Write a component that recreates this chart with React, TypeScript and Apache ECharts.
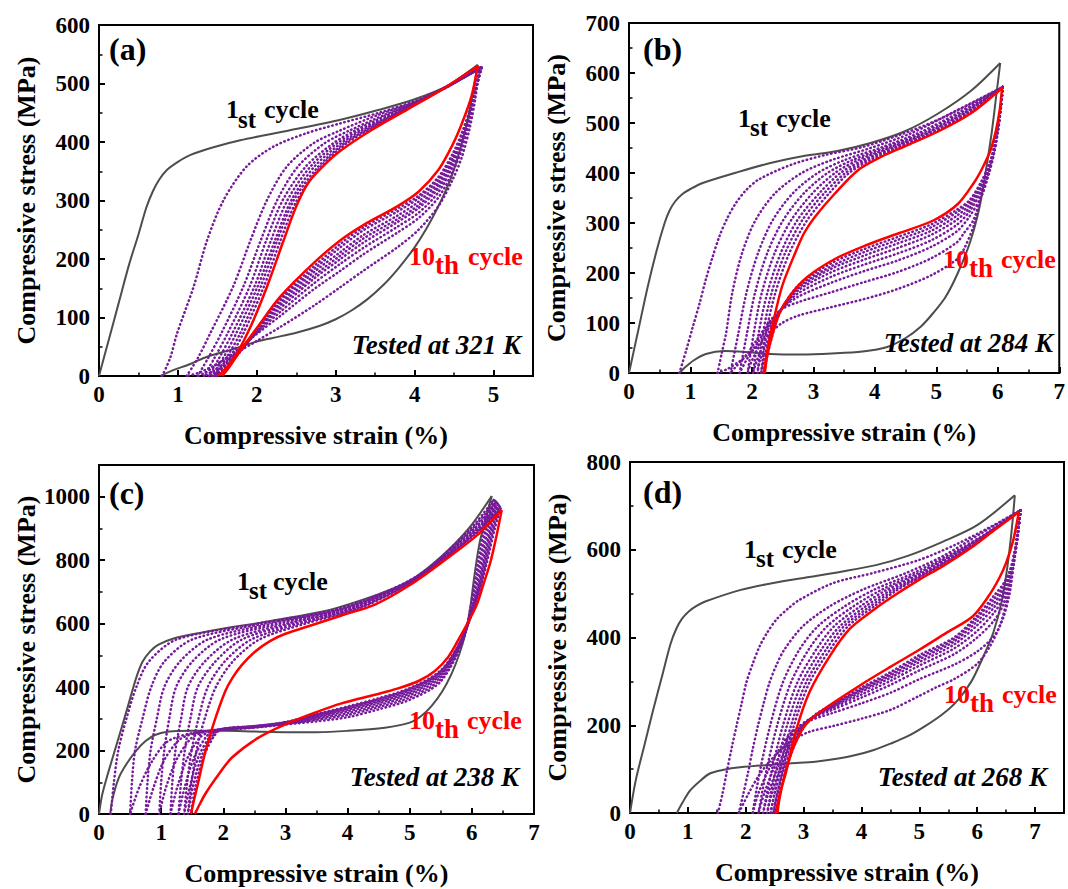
import React, { useEffect, useRef } from "react";
import * as echarts from "echarts";

type Pt = [number, number];

// ---------------- (a) Tested at 321 K ----------------
const aLoad1: Pt[] = [[0,0],[0.12,60],[0.25,125],[0.38,190],[0.5,242],[0.6,288],[0.68,315],[0.76,335],[0.86,352],[1.0,366],[1.16,378],[1.45,391],[1.79,403],[2.42,420],[3.06,438],[3.55,455],[4.0,473],[4.4,495],[4.8,532]];
const aUnload1: Pt[] = [[4.8,532],[4.74,485],[4.65,425],[4.55,375],[4.45,335],[4.3,290],[4.15,252],[4.0,220],[3.8,185],[3.6,155],[3.4,131],[3.2,112],[3.0,97],[2.8,86],[2.5,74],[2.2,65],[2.0,59],[1.7,46],[1.37,33],[1.15,20],[0.94,10],[0.78,0]];
const aLoad10: Pt[] = [[1.51,0],[1.62,15],[1.75,39],[1.92,84],[2.13,153],[2.34,232],[2.5,290],[2.65,330],[2.85,360],[3.06,385],[3.45,420],[3.9,455],[4.35,490],[4.8,530]];
const aUnload10: Pt[] = [[4.8,530],[4.72,478],[4.6,432],[4.48,395],[4.3,352],[4.05,315],[3.78,290],[3.35,258],[3.06,232],[2.72,193],[2.3,136],[2.0,82],[1.8,45],[1.65,15],[1.56,0]];
const aMidLoads: Pt[][] = [
  [[0.8,0],[0.9,30],[0.99,73],[1.2,153],[1.37,232],[1.58,301],[1.87,358],[2.21,392],[2.63,415],[3.06,432],[3.55,450],[4.0,470],[4.4,493],[4.82,527]],
  [[1.11,0],[1.25,30],[1.41,73],[1.7,153],[1.92,232],[2.13,301],[2.38,358],[2.72,398],[3.06,420],[3.55,447],[4.0,468],[4.4,493],[4.83,527]],
  [[1.25,0],[1.38,30],[1.55,73],[1.83,153],[2.05,232],[2.26,301],[2.52,358],[2.86,398],[3.18,420],[3.63,447],[4.02,468],[4.39,493],[4.83,527]],
  [[1.33,0],[1.46,30],[1.63,73],[1.91,153],[2.12,232],[2.33,301],[2.62,358],[2.97,398],[3.25,420],[3.67,447],[4.03,468],[4.39,493],[4.84,527]],
  [[1.39,0],[1.52,30],[1.69,73],[1.97,153],[2.18,232],[2.39,301],[2.68,358],[3.02,398],[3.3,420],[3.71,447],[4.03,468],[4.39,493],[4.84,527]],
  [[1.43,0],[1.57,30],[1.74,73],[2.01,153],[2.23,232],[2.44,301],[2.73,358],[3.07,398],[3.34,420],[3.73,447],[4.04,468],[4.39,493],[4.85,527]],
  [[1.46,0],[1.61,30],[1.79,73],[2.05,153],[2.26,232],[2.47,301],[2.78,358],[3.11,398],[3.38,420],[3.75,447],[4.05,468],[4.39,493],[4.85,527]],
  [[1.49,0],[1.65,30],[1.83,73],[2.09,153],[2.3,232],[2.51,301],[2.81,358],[3.14,398],[3.41,420],[3.77,447],[4.05,468],[4.38,493],[4.85,527]],
];
const aMidUnloads: Pt[][] = [
  [[4.82,527],[4.77,475],[4.7,425],[4.6,375],[4.48,335],[4.3,290],[4.05,250],[3.78,220],[3.35,180],[3.06,152],[2.72,120],[2.3,84],[2.0,60],[1.75,40],[1.45,17],[1.25,5],[1.11,0]],
  [[4.83,527],[4.77,485],[4.7,438],[4.6,388],[4.48,348],[4.3,305],[4.05,270],[3.78,245],[3.35,208],[3.06,180],[2.72,148],[2.3,103],[2.0,72],[1.75,45],[1.5,20],[1.35,6],[1.25,0]],
  [[4.83,527],[4.77,488],[4.7,444],[4.6,396],[4.48,357],[4.3,314],[4.05,279],[3.78,255],[3.35,219],[3.06,192],[2.72,158],[2.3,110],[2.0,74],[1.78,45],[1.55,18],[1.4,5],[1.33,0]],
  [[4.84,527],[4.77,490],[4.7,448],[4.6,402],[4.48,363],[4.3,321],[4.05,287],[3.78,263],[3.35,228],[3.06,200],[2.72,166],[2.3,116],[2.0,75],[1.79,45],[1.58,18],[1.45,5],[1.39,0]],
  [[4.84,527],[4.77,491],[4.7,451],[4.6,406],[4.48,368],[4.3,326],[4.05,292],[3.78,268],[3.35,235],[3.06,206],[2.72,171],[2.3,121],[2.0,76],[1.8,45],[1.6,18],[1.49,5],[1.43,0]],
  [[4.85,527],[4.78,492],[4.71,454],[4.61,411],[4.49,373],[4.3,331],[4.05,298],[3.78,274],[3.35,241],[3.06,212],[2.72,177],[2.3,125],[2.0,77],[1.8,45],[1.61,18],[1.52,5],[1.46,0]],
  [[4.85,527],[4.78,493],[4.71,457],[4.61,416],[4.49,378],[4.3,336],[4.05,304],[3.78,281],[3.35,249],[3.06,220],[2.72,182],[2.3,129],[2.0,78],[1.81,45],[1.63,18],[1.54,5],[1.49,0]],
  [[4.85,527],[4.78,495],[4.71,460],[4.61,420],[4.49,382],[4.3,340],[4.05,308],[3.78,286],[3.35,254],[3.06,226],[2.72,187],[2.3,132],[2.0,78],[1.81,45],[1.64,18],[1.56,5],[1.51,0]],
];

// ---------------- (b) Tested at 284 K ----------------
const bLoad1: Pt[] = [[0,0],[0.15,85],[0.3,170],[0.45,245],[0.58,300],[0.66,325],[0.75,343],[0.87,358],[1.0,368],[1.2,380],[1.75,401],[2.3,420],[2.84,434],[3.39,444],[3.93,460],[4.48,483],[5.03,519],[5.57,565],[6.04,620]];
const bUnload1: Pt[] = [[6.04,620],[5.98,560],[5.9,480],[5.8,400],[5.7,330],[5.55,262],[5.35,200],[5.15,152],[4.95,120],[4.75,93],[4.5,70],[4.2,52],[3.8,43],[3.3,39],[2.8,37],[2.3,38],[1.9,42],[1.55,44],[1.25,38],[1.05,25],[0.9,10],[0.82,0]];
const bLoad10: Pt[] = [[2.19,0],[2.25,45],[2.33,93],[2.49,173],[2.7,239],[2.85,280],[3.03,313],[3.35,359],[3.73,406],[4.1,432],[4.48,453],[5.03,483],[5.57,520],[6.07,570]];
const bUnload10: Pt[] = [[6.07,570],[6.03,525],[5.97,485],[5.88,445],[5.75,410],[5.62,382],[5.35,338],[4.95,305],[4.4,280],[3.87,256],[3.35,228],[2.9,192],[2.62,155],[2.45,120],[2.33,75],[2.25,35],[2.21,0]];
const bMidLoads: Pt[][] = [
  [[0.82,0],[0.93,45],[1.04,93],[1.15,140],[1.25,187],[1.36,232],[1.47,273],[1.6,310],[1.74,340],[1.9,365],[2.11,387],[2.65,417],[3.19,436],[3.8,452],[4.4,476],[5.0,505],[5.55,538],[6.08,572]],
  [[1.44,0],[1.51,40],[1.58,80],[1.68,160],[1.84,240],[2.06,306],[2.38,360],[2.81,400],[3.3,426],[3.93,450],[4.6,480],[5.25,520],[6.08,572]],
  [[1.65,0],[1.78,80],[1.91,160],[2.1,240],[2.34,306],[2.67,360],[3.07,400],[3.51,426],[4.08,450],[4.71,480],[5.35,520],[6.08,572]],
  [[1.8,0],[1.92,80],[2.05,160],[2.25,240],[2.51,306],[2.85,360],[3.23,400],[3.64,426],[4.16,450],[4.78,480],[5.4,520],[6.08,572]],
  [[1.93,0],[2.03,80],[2.16,160],[2.37,240],[2.64,306],[2.99,360],[3.35,400],[3.73,426],[4.23,450],[4.84,480],[5.45,520],[6.08,572]],
  [[2.02,0],[2.11,80],[2.25,160],[2.47,240],[2.74,306],[3.1,360],[3.44,400],[3.81,426],[4.28,450],[4.88,480],[5.48,520],[6.08,572]],
  [[2.09,0],[2.18,80],[2.32,160],[2.54,240],[2.82,306],[3.18,360],[3.52,400],[3.87,426],[4.33,450],[4.92,480],[5.51,520],[6.08,572]],
  [[2.15,0],[2.23,80],[2.38,160],[2.61,240],[2.9,306],[3.26,360],[3.58,400],[3.93,426],[4.37,450],[4.95,480],[5.54,520],[6.08,572]],
];
const bMidUnloads: Pt[][] = [
  [[6.08,572],[6.05,530],[6.0,480],[5.92,430],[5.8,380],[5.71,345],[5.61,295],[5.45,248],[5.34,228],[4.91,195],[4.37,168],[3.83,148],[3.3,132],[2.76,115],[2.49,100],[2.3,80],[2.1,55],[1.85,28],[1.6,8],[1.44,0]],
  [[6.08,572],[6.05,530],[6.0,485],[5.93,440],[5.83,395],[5.72,350],[5.6,305],[5.45,280],[5.34,262],[4.91,229],[4.37,202],[3.83,182],[3.3,162],[2.76,142],[2.49,128],[2.3,105],[2.1,70],[1.9,35],[1.72,10],[1.65,0]],
  [[6.08,572],[6.05,530],[6.0,485],[5.94,440],[5.86,400],[5.74,355],[5.55,315],[5.34,284],[4.91,252],[4.37,225],[3.83,204],[3.3,181],[2.76,153],[2.49,129],[2.3,100],[2.1,62],[1.92,28],[1.8,0]],
  [[6.08,572],[6.05,530],[6.0,487],[5.94,443],[5.86,405],[5.74,365],[5.55,325],[5.34,297],[4.91,265],[4.37,239],[3.83,217],[3.3,193],[2.76,160],[2.49,129],[2.32,100],[2.15,60],[2.0,25],[1.93,0]],
  [[6.08,572],[6.05,532],[6.0,489],[5.94,446],[5.86,409],[5.74,372],[5.55,332],[5.34,307],[4.91,276],[4.37,250],[3.83,227],[3.3,202],[2.76,166],[2.49,129],[2.35,100],[2.2,60],[2.08,25],[2.02,0]],
  [[6.08,572],[6.05,532],[6.0,490],[5.94,448],[5.86,412],[5.74,377],[5.55,338],[5.34,315],[4.91,284],[4.37,259],[3.83,235],[3.3,209],[2.76,170],[2.49,130],[2.37,100],[2.24,60],[2.13,25],[2.09,0]],
  [[6.08,572],[6.05,533],[6.0,491],[5.94,450],[5.86,415],[5.74,381],[5.55,343],[5.34,322],[4.91,291],[4.37,266],[3.83,242],[3.3,214],[2.76,173],[2.49,130],[2.38,100],[2.27,60],[2.19,25],[2.15,0]],
  [[6.08,572],[6.05,533],[6.0,492],[5.94,452],[5.86,418],[5.74,385],[5.55,347],[5.34,327],[4.91,297],[4.37,272],[3.83,248],[3.3,220],[2.76,176],[2.49,130],[2.39,100],[2.3,60],[2.23,25],[2.19,0]],
];

// ---------------- (c) Tested at 238 K ----------------
const cLoad1: Pt[] = [[0,0],[0.05,60],[0.14,125],[0.3,230],[0.46,336],[0.6,430],[0.7,480],[0.82,512],[0.95,533],[1.2,553],[1.6,570],[2.1,588],[2.6,603],[3.1,620],[3.6,638],[4.0,660],[4.5,693],[5.0,735],[5.5,810],[5.95,900],[6.32,1002]];
const cUnload1: Pt[] = [[6.32,1002],[6.22,930],[6.12,850],[6.04,750],[5.97,645],[5.89,565],[5.8,505],[5.68,445],[5.52,385],[5.35,340],[5.18,308],[5.0,288],[4.6,272],[4.0,262],[3.5,258],[3.0,258],[2.5,260],[2.0,262],[1.5,262],[1.1,259],[0.9,249],[0.75,230],[0.6,200],[0.45,160],[0.32,115],[0.22,50],[0.18,0]];
const cLoad10: Pt[] = [[1.48,0],[1.53,45],[1.59,94],[1.7,188],[1.84,282],[2.03,386],[2.15,430],[2.3,470],[2.5,510],[2.75,545],[3.0,568],[3.42,595],[3.89,625],[4.44,660],[4.99,720],[5.53,795],[6.08,878],[6.48,958]];
const cUnload10: Pt[] = [[6.48,958],[6.4,880],[6.3,795],[6.18,720],[6.08,660],[5.94,605],[5.8,555],[5.62,495],[5.4,450],[5.15,420],[4.8,395],[4.44,376],[3.89,348],[3.51,322],[2.99,282],[2.56,240],[2.14,178],[1.93,126],[1.71,63],[1.58,15],[1.54,0]];
const cMidLoads: Pt[][] = [
  [[0.19,0],[0.24,100],[0.31,200],[0.44,300],[0.6,400],[0.8,480],[1.25,550],[2.55,600],[3.9,650],[5.12,750],[5.98,900],[6.35,990]],
  [[0.5,0],[0.53,100],[0.58,200],[0.7,300],[0.84,400],[1.05,480],[1.5,550],[2.65,600],[3.95,650],[5.13,750],[6.01,900],[6.37,987]],
  [[0.75,0],[0.78,100],[0.83,200],[0.93,300],[1.05,400],[1.3,480],[1.75,550],[2.78,600],[4.0,650],[5.14,750],[6.04,900],[6.39,984]],
  [[0.97,0],[1.0,100],[1.05,200],[1.13,300],[1.24,400],[1.5,480],[1.95,550],[2.9,600],[4.05,650],[5.15,750],[6.07,900],[6.41,980]],
  [[1.15,0],[1.18,100],[1.23,200],[1.32,300],[1.43,400],[1.7,480],[2.15,550],[3.02,600],[4.1,650],[5.16,750],[6.1,900],[6.42,976]],
  [[1.28,0],[1.32,100],[1.38,200],[1.47,300],[1.59,400],[1.87,480],[2.3,550],[3.12,600],[4.14,650],[5.17,750],[6.12,900],[6.44,972]],
  [[1.37,0],[1.42,100],[1.49,200],[1.6,300],[1.75,400],[2.02,480],[2.45,550],[3.22,600],[4.18,650],[5.18,750],[6.14,900],[6.45,968]],
  [[1.43,0],[1.49,100],[1.57,200],[1.7,300],[1.88,400],[2.15,480],[2.58,550],[3.32,600],[4.22,650],[5.19,750],[6.16,900],[6.46,963]],
];
const cMidUnloads: Pt[][] = [
  [[6.35,990],[6.2,900],[6.02,700],[5.86,550],[5.5,418],[5.0,360],[4.5,330],[4.0,305],[3.5,292],[3.0,282],[2.5,272],[2.0,265],[1.5,255],[1.1,228],[0.85,165],[0.65,85],[0.5,0]],
  [[6.37,987],[6.23,900],[6.04,700],[5.86,550],[5.5,425],[5.0,367],[4.5,337],[4.0,312],[3.5,297],[3.0,284],[2.5,273],[2.0,266],[1.6,257],[1.3,235],[1.05,170],[0.88,85],[0.75,0]],
  [[6.39,984],[6.26,900],[6.06,700],[5.85,550],[5.5,432],[5.0,374],[4.5,343],[4.0,318],[3.5,301],[3.0,285],[2.5,274],[2.0,267],[1.7,259],[1.48,238],[1.25,172],[1.08,85],[0.97,0]],
  [[6.41,980],[6.29,900],[6.08,700],[5.85,550],[5.5,438],[5.0,380],[4.5,349],[4.0,324],[3.5,305],[3.0,286],[2.5,275],[2.0,268],[1.8,260],[1.62,240],[1.42,175],[1.26,85],[1.15,0]],
  [[6.42,976],[6.31,900],[6.09,700],[5.84,550],[5.5,443],[5.0,385],[4.5,354],[4.0,329],[3.5,308],[3.0,287],[2.5,276],[2.0,268],[1.85,262],[1.72,242],[1.53,178],[1.38,85],[1.28,0]],
  [[6.44,972],[6.33,900],[6.1,700],[5.84,550],[5.5,447],[5.0,390],[4.5,358],[4.0,333],[3.5,311],[3.0,288],[2.5,276],[2.1,270],[1.9,263],[1.78,243],[1.6,180],[1.46,85],[1.37,0]],
  [[6.45,968],[6.35,900],[6.11,700],[5.83,550],[5.5,450],[5.0,394],[4.5,362],[4.0,336],[3.5,313],[3.0,289],[2.5,277],[2.1,271],[1.92,264],[1.82,244],[1.65,182],[1.51,85],[1.43,0]],
  [[6.46,963],[6.37,900],[6.12,700],[5.83,550],[5.5,453],[5.0,397],[4.5,365],[4.0,339],[3.5,315],[3.0,290],[2.5,277],[2.1,272],[1.95,265],[1.85,245],[1.69,184],[1.55,85],[1.48,0]],
];

// ---------------- (d) Tested at 268 K ----------------
const dLoad1: Pt[] = [[0,0],[0.1,75],[0.25,155],[0.4,235],[0.55,310],[0.7,385],[0.8,420],[0.9,443],[1.02,460],[1.15,472],[1.3,482],[1.9,508],[2.5,525],[3.1,538],[3.65,550],[4.25,565],[4.8,586],[5.4,618],[6.0,656],[6.65,724]];
const dUnload1: Pt[] = [[6.65,724],[6.6,650],[6.52,560],[6.42,480],[6.28,412],[6.1,355],[5.9,300],[5.65,255],[5.4,225],[5.1,198],[4.8,175],[4.5,158],[4.2,143],[3.9,132],[3.6,124],[3.2,117],[2.76,113],[1.9,104],[1.6,98],[1.38,90],[1.2,72],[1.03,50],[0.9,22],[0.81,0]];
const dLoad10: Pt[] = [[2.52,0],[2.6,50],[2.7,95],[2.87,188],[3.1,275],[3.45,357],[3.8,420],[4.2,462],[4.5,490],[5.0,532],[5.4,562],[5.9,605],[6.3,645],[6.72,686]];
const dUnload10: Pt[] = [[6.72,686],[6.62,620],[6.5,570],[6.38,535],[6.2,495],[5.92,448],[5.46,410],[5.0,372],[4.5,333],[4.0,293],[3.5,250],[3.2,222],[3.0,195],[2.82,148],[2.68,90],[2.58,30],[2.55,0]];
const dMidLoads: Pt[][] = [
  [[1.52,0],[1.6,45],[1.67,92],[1.76,150],[1.84,198],[1.93,250],[2.01,297],[2.12,340],[2.24,380],[2.38,413],[2.53,441],[2.75,468],[2.93,486],[3.51,524],[4.2,547],[5.0,577],[5.6,610],[6.2,650],[6.75,690]],
  [[1.88,0],[1.96,45],[2.04,92],[2.12,145],[2.21,198],[2.31,250],[2.41,297],[2.53,337],[2.67,373],[2.99,426],[3.45,471],[4.02,509],[4.77,547],[5.4,585],[6.1,640],[6.75,690]],
  [[2.12,0],[2.24,92],[2.42,198],[2.64,297],[2.93,373],[3.25,426],[3.71,471],[4.22,509],[4.9,547],[5.68,600],[6.25,645],[6.75,690]],
  [[2.22,0],[2.35,92],[2.54,198],[2.78,297],[3.09,373],[3.41,426],[3.86,471],[4.35,509],[4.98,547],[5.72,600],[6.26,645],[6.75,690]],
  [[2.3,0],[2.44,92],[2.64,198],[2.89,297],[3.22,373],[3.53,426],[3.98,471],[4.44,509],[5.04,547],[5.75,600],[6.26,645],[6.75,690]],
  [[2.37,0],[2.51,92],[2.71,198],[2.97,297],[3.31,373],[3.63,426],[4.07,471],[4.52,509],[5.08,547],[5.78,600],[6.27,645],[6.75,690]],
  [[2.43,0],[2.57,92],[2.78,198],[3.04,297],[3.39,373],[3.7,426],[4.15,471],[4.58,509],[5.12,547],[5.8,600],[6.27,645],[6.75,690]],
  [[2.48,0],[2.63,92],[2.83,198],[3.1,297],[3.46,373],[3.77,426],[4.22,471],[4.63,509],[5.14,547],[5.82,600],[6.28,645],[6.75,690]],
];
const dMidUnloads: Pt[][] = [
  [[6.75,690],[6.7,630],[6.62,560],[6.52,490],[6.4,430],[6.22,380],[6.0,340],[5.6,305],[5.3,287],[5.0,267],[4.5,235],[4.0,215],[3.5,198],[3.1,185],[2.8,165],[2.5,130],[2.25,90],[2.05,45],[1.88,0]],
  [[6.75,690],[6.7,630],[6.63,565],[6.56,500],[6.45,445],[6.3,405],[6.0,368],[5.6,338],[5.0,305],[4.5,274],[4.0,250],[3.5,228],[3.1,210],[2.8,185],[2.6,150],[2.4,100],[2.22,45],[2.12,0]],
  [[6.75,690],[6.7,635],[6.64,580],[6.56,525],[6.45,475],[6.3,440],[6.0,400],[5.6,362],[5.0,325],[4.5,292],[4.0,263],[3.5,235],[3.1,214],[2.85,188],[2.65,150],[2.48,100],[2.32,45],[2.22,0]],
  [[6.75,690],[6.7,635],[6.64,582],[6.56,532],[6.45,490],[6.3,458],[6.0,415],[5.6,375],[5.0,336],[4.5,301],[4.0,270],[3.5,239],[3.15,216],[2.9,190],[2.7,150],[2.54,100],[2.39,45],[2.3,0]],
  [[6.75,690],[6.7,636],[6.64,585],[6.56,538],[6.45,500],[6.3,470],[6.0,428],[5.6,384],[5.0,344],[4.5,308],[4.0,276],[3.5,242],[3.15,218],[2.92,190],[2.74,150],[2.59,100],[2.45,45],[2.37,0]],
  [[6.75,690],[6.7,637],[6.64,588],[6.56,543],[6.45,508],[6.3,480],[6.0,437],[5.6,391],[5.0,350],[4.5,313],[4.0,280],[3.5,244],[3.18,220],[2.95,190],[2.77,150],[2.62,100],[2.5,45],[2.43,0]],
  [[6.75,690],[6.7,638],[6.64,590],[6.56,547],[6.45,515],[6.3,489],[6.0,445],[5.6,396],[5.0,355],[4.5,317],[4.0,283],[3.5,246],[3.2,222],[2.97,192],[2.8,150],[2.66,100],[2.54,45],[2.48,0]],
  [[6.75,690],[6.7,640],[6.64,592],[6.56,551],[6.45,522],[6.3,497],[6.0,450],[5.6,400],[5.0,360],[4.5,321],[4.0,286],[3.5,248],[3.2,224],[3.0,195],[2.83,150],[2.7,100],[2.58,45],[2.52,0]],
];

// ---------------- texts ----------------
const panelLetters = ["(a)", "(b)", "(c)", "(d)"];
const tempLabels = ["Tested at 321 K", "Tested at 284 K", "Tested at 238 K", "Tested at 268 K"];
const xAxisTitle = "Compressive strain (%)";
const yAxisTitle = "Compressive stress (MPa)";

const FONT = '"Liberation Serif", "Times New Roman", Times, serif';
const GRAY = "#4d4d4d";
const PURPLE = "#761a9a";
const RED = "#ff0000";

const panels = [
  { grid: { left: 99, top: 25, width: 434, height: 351 }, xMax: 5.5, yMax: 600, yStep: 100,
    c1: [aLoad1, aUnload1], c10: [aLoad10, aUnload10], midL: aMidLoads, midU: aMidUnloads,
    pos: { letter: [109, 49], one: [226, 109], st: [238, 119], cyc1: [264, 109], ten: [409, 256], th: [435, 265], cyc10: [468, 256], temp: [521, 345] } },
  { grid: { left: 629, top: 23, width: 436, height: 350 }, xMax: 7, yMax: 700, yStep: 100,
    c1: [bLoad1, bUnload1], c10: [bLoad10, bUnload10], midL: bMidLoads, midU: bMidUnloads,
    pos: { letter: [643, 49], one: [738, 118], st: [750, 127], cyc1: [776, 118], ten: [943, 259], th: [969, 268], cyc10: [1001, 259], temp: [1053, 343] } },
  { grid: { left: 99, top: 465, width: 435, height: 349 }, xMax: 7, yMax: 1100, yStep: 200,
    c1: [cLoad1, cUnload1], c10: [cLoad10, cUnload10], midL: cMidLoads, midU: cMidUnloads,
    pos: { letter: [109, 493], one: [237, 581], st: [249, 590], cyc1: [273, 581], ten: [409, 720], th: [435, 729], cyc10: [467, 720], temp: [519, 777] } },
  { grid: { left: 630, top: 462, width: 434, height: 351 }, xMax: 7.5, yMax: 800, yStep: 200,
    c1: [dLoad1, dUnload1], c10: [dLoad10, dUnload10], midL: dMidLoads, midU: dMidUnloads,
    pos: { letter: [643, 492], one: [744, 549], st: [756, 558], cyc1: [782, 549], ten: [944, 694], th: [970, 703], cyc10: [1002, 694], temp: [1047, 777] } },
];

function stepFormatter(step: number) {
  return (v: number) => {
    const r = v / step;
    return Math.abs(r - Math.round(r)) < 1e-6 ? String(Math.round(v * 1000) / 1000) : "";
  };
}

function buildOption() {
  const grid: any[] = [];
  const xAxis: any[] = [];
  const yAxis: any[] = [];
  const series: any[] = [];
  const graphic: any[] = [];

  const labelStyle = { color: "#000", fontFamily: FONT, fontWeight: "bold", fontSize: 23 };
  const nameStyle = { color: "#000", fontFamily: FONT, fontWeight: "bold", fontSize: 26 };

  panels.forEach((p, i) => {
    grid.push({ ...p.grid, show: true, borderColor: "#000", borderWidth: 2, backgroundColor: "transparent" });
    xAxis.push({
      type: "value", gridIndex: i, min: 0, max: p.xMax, interval: 1,
      name: xAxisTitle, nameLocation: "middle", nameGap: 46, nameTextStyle: nameStyle,
      axisLine: { show: true, onZero: false, lineStyle: { color: "#000", width: 2 } },
      axisTick: { show: true, inside: true, length: 6, lineStyle: { color: "#000", width: 2 } },
      minorTick: { show: true, splitNumber: 2, length: 3.5, lineStyle: { color: "#000", width: 1.5 } },
      splitLine: { show: false },
      axisLabel: { ...labelStyle, margin: 7, formatter: stepFormatter(1) },
    });
    yAxis.push({
      type: "value", gridIndex: i, min: 0, max: p.yMax, interval: p.yStep,
      name: yAxisTitle, nameLocation: "middle", nameGap: 60, nameTextStyle: nameStyle,
      axisLine: { show: true, onZero: false, lineStyle: { color: "#000", width: 2 } },
      axisTick: { show: true, inside: true, length: 6, lineStyle: { color: "#000", width: 2 } },
      minorTick: { show: true, splitNumber: 2, length: 3.5, lineStyle: { color: "#000", width: 1.5 } },
      splitLine: { show: false },
      axisLabel: { ...labelStyle, margin: 9, formatter: stepFormatter(p.yStep) },
    });

    const base = { type: "line", xAxisIndex: i, yAxisIndex: i, symbol: "none", showSymbol: false, smooth: 0.3, silent: true, animation: false };
    const dotted = { color: PURPLE, width: 2.5, type: [0.5, 3.7], cap: "round" };
    // 1st cycle (gray)
    p.c1.forEach((d) => series.push({ ...base, data: d, z: 2, lineStyle: { color: GRAY, width: 2 } }));
    // 2nd-9th cycles (purple, dotted)
    p.midL.forEach((d, k) => {
      series.push({ ...base, data: d, z: 3, lineStyle: dotted });
      series.push({ ...base, data: p.midU[k], z: 3, lineStyle: dotted });
    });
    // 10th cycle (red)
    p.c10.forEach((d) => series.push({ ...base, data: d, z: 4, lineStyle: { color: RED, width: 2.5 } }));

    const t = (x: number, y: number, text: string, size: number, fill: string, align = "left", italic = false) => ({
      type: "text", x, y, z: 100, silent: true,
      style: { text, fill, fontFamily: FONT, fontWeight: "bold", fontStyle: italic ? "italic" : "normal", fontSize: size, align, verticalAlign: "middle" },
    });
    const ps = p.pos;
    graphic.push(t(ps.letter[0], ps.letter[1], panelLetters[i], 32, "#000"));
    graphic.push(t(ps.one[0], ps.one[1], "1", 26, "#000"));
    graphic.push(t(ps.st[0], ps.st[1], "st", 25, "#000"));
    graphic.push(t(ps.cyc1[0], ps.cyc1[1], "cycle", 26, "#000"));
    graphic.push(t(ps.ten[0], ps.ten[1], "10", 26, RED));
    graphic.push(t(ps.th[0], ps.th[1], "th", 27, RED));
    graphic.push(t(ps.cyc10[0], ps.cyc10[1], "cycle", 26, RED));
    graphic.push(t(ps.temp[0], ps.temp[1], tempLabels[i], 27, "#000", "right", true));
  });

  return { animation: false, backgroundColor: "#fff", grid, xAxis, yAxis, series, graphic };
}

export default function App() {
  const ref = useRef<HTMLDivElement>(null);
  useEffect(() => {
    document.body.style.margin = "0";
    if (!ref.current) return;
    const chart = echarts.init(ref.current, undefined, { renderer: "svg", width: 1068, height: 889 });
    chart.setOption(buildOption() as any);
    return () => chart.dispose();
  }, []);
  return <div ref={ref} style={{ width: 1068, height: 889, background: "#fff" }} />;
}
